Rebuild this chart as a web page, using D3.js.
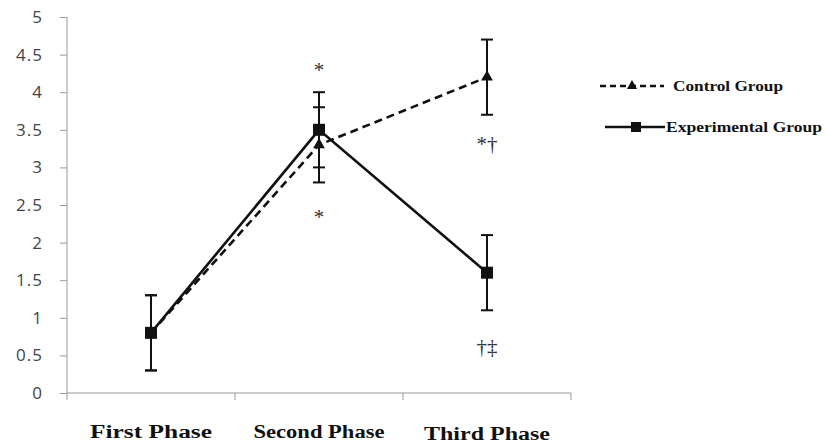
<!DOCTYPE html>
<html lang="en">
<head>
<meta charset="UTF-8">
<title>Control vs Experimental Group</title>
<style>
  body { margin: 0; padding: 0; background: #fff; }
  svg { display: block; }
</style>
</head>
<body>
<script src="https://d3js.org/d3.v7.min.js"></script>
<script>
var phases = ["First Phase", "Second Phase", "Third Phase"];
var controlValues = [0.8, 3.3, 4.2];
var experimentalValues = [0.8, 3.5, 1.6];
var controlError = [0.5, 0.5, 0.5];
var experimentalError = [0.5, 0.5, 0.5];
var yTicks = [0, 0.5, 1, 1.5, 2, 2.5, 3, 3.5, 4, 4.5, 5];
// significance marks: [phase, value, text]
var marks = [
  ["Second Phase", 4.2, "*"],
  ["Second Phase", 2.25, "*"],
  ["Third Phase", 3.22, "*\u2020"],
  ["Third Phase", 0.52, "\u2020\u2021"]
];

var width = 826, height = 444;
var svg = d3.select("body").append("svg")
  .attr("width", width).attr("height", height);

var x = d3.scaleBand().domain(phases).range([67, 571]);
var y = d3.scaleLinear().domain([0, 5]).range([393, 17]);
var cx = function (p) { return x(p) + x.bandwidth() / 2; };

// y axis
var yAxis = svg.append("g").attr("transform", "translate(67,0)")
  .call(d3.axisLeft(y).tickValues(yTicks).tickSize(7).tickPadding(17)
    .tickFormat(function (d) { return String(d); }));
yAxis.select(".domain").attr("stroke", "#999").attr("d", "M0,17V400");
yAxis.selectAll(".tick line").attr("stroke", "#999");
yAxis.selectAll("text").attr("font-family", "'Open Sans', sans-serif")
  .style("font-size", "17px").style("letter-spacing", "1px").attr("fill", "#444");

// x axis
var xAxis = svg.append("g").attr("transform", "translate(0,393)");
xAxis.append("line").attr("x1", 67).attr("x2", 571)
  .attr("stroke", "#999");
xAxis.selectAll(".bt").data(phases).enter().append("line")
  .attr("x1", function (d) { return x(d) + x.bandwidth(); })
  .attr("x2", function (d) { return x(d) + x.bandwidth(); })
  .attr("y1", 0).attr("y2", 7).attr("stroke", "#999");
var labelW = [122, 131, 126];
xAxis.selectAll("text").data(phases).enter().append("text")
  .attr("x", cx).attr("y", function (d, i) { return i === 2 ? 47 : 45; })
  .attr("text-anchor", "middle")
  .attr("font-family", "'Liberation Serif', serif")
  .attr("font-weight", "bold").attr("font-size", 18)
  .attr("textLength", function (d, i) { return labelW[i]; })
  .attr("lengthAdjust", "spacingAndGlyphs")
  .attr("fill", "#111").text(function (d) { return d; });

var line = d3.line().x(function (d, i) { return cx(phases[i]); })
  .y(function (d) { return y(d); });

function errorBars(vals, errs) {
  var g = svg.append("g").attr("stroke", "#111").attr("stroke-width", 2);
  vals.forEach(function (v, i) {
    var px = cx(phases[i]);
    g.append("line").attr("x1", px).attr("x2", px)
      .attr("y1", y(v - errs[i])).attr("y2", y(v + errs[i]));
    [v - errs[i], v + errs[i]].forEach(function (e) {
      g.append("line").attr("x1", px - 6).attr("x2", px + 6)
        .attr("y1", y(e)).attr("y2", y(e));
    });
  });
}
errorBars(controlValues, controlError);
errorBars(experimentalValues, experimentalError);

svg.append("path").datum(controlValues).attr("d", line)
  .attr("fill", "none").attr("stroke", "#111").attr("stroke-width", 2.6)
  .attr("stroke-dasharray", "8,5");
svg.append("path").datum(experimentalValues).attr("d", line)
  .attr("fill", "none").attr("stroke", "#111").attr("stroke-width", 2.6);

var tri = d3.symbol().type(d3.symbolTriangle).size(60);
svg.selectAll(".tri").data(controlValues).enter().append("path")
  .attr("d", tri).attr("fill", "#111")
  .attr("transform", function (d, i) { return "translate(" + cx(phases[i]) + "," + y(d) + ")"; });
svg.selectAll(".sq").data(experimentalValues).enter().append("rect")
  .attr("x", function (d, i) { return cx(phases[i]) - 6; })
  .attr("y", function (d) { return y(d) - 6; })
  .attr("width", 12).attr("height", 12).attr("fill", "#111");

// significance marks
svg.selectAll(".mark").data(marks).enter().append("text")
  .attr("x", function (d) { return cx(d[0]); })
  .attr("y", function (d) { return y(d[1]); })
  .attr("text-anchor", "middle")
  .attr("font-family", "'Liberation Serif', serif").attr("font-size", 21)
  .attr("fill", "#333").text(function (d) { return d[2]; });

// legend
var legend = svg.append("g").attr("font-family", "'Liberation Serif', serif")
  .attr("font-weight", "bold").attr("font-size", 15).attr("fill", "#111");
legend.append("line").attr("x1", 600).attr("x2", 664).attr("y1", 86).attr("y2", 86)
  .attr("stroke", "#111").attr("stroke-width", 2.6).attr("stroke-dasharray", "6,4");
legend.append("path").attr("d", d3.symbol().type(d3.symbolTriangle).size(45)).attr("fill", "#111")
  .attr("transform", "translate(632,86)");
legend.append("text").attr("x", 673).attr("y", 91).attr("textLength", 110)
  .attr("lengthAdjust", "spacingAndGlyphs").text("Control Group");
legend.append("line").attr("x1", 605).attr("x2", 665).attr("y1", 127).attr("y2", 127)
  .attr("stroke", "#111").attr("stroke-width", 2.6);
legend.append("rect").attr("x", 631).attr("y", 122).attr("width", 10).attr("height", 10)
  .attr("fill", "#111");
legend.append("text").attr("x", 666).attr("y", 132).attr("textLength", 156)
  .attr("lengthAdjust", "spacingAndGlyphs").text("Experimental Group");
</script>
</body>
</html>
